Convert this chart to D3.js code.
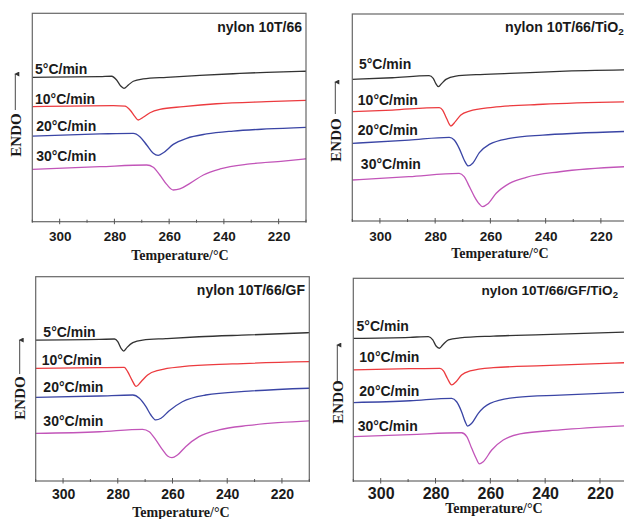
<!DOCTYPE html>
<html>
<head>
<meta charset="utf-8">
<script src="https://cdn.jsdelivr.net/npm/d3@7/dist/d3.min.js"></script>
<style>
  html, body { margin: 0; padding: 0; background: #fff; }
  svg { display: block; }
</style>
</head>
<body>
<svg id="chart" width="624" height="519"></svg>
<script>
// ---------- data (temperature °C, heat flow a.u.) ----------
const rateLabels = ["5\u00B0C/min", "10\u00B0C/min", "20\u00B0C/min", "30\u00B0C/min"];
const majorTicks = [300, 280, 260, 240, 220];
const minorTicks = [310, 290, 270, 250, 230, 210];
const panelTitles = ["nylon 10T/66", "nylon 10T/66/TiO", "nylon 10T/66/GF", "nylon 10T/66/GF/TiO"];
const titleSubs = ["", "2", "", "2"];

// panel 1: nylon 10T/66
const p1_5  = [[310,69.3],[285.3,69.6],[281,69.8],[279.2,68.0],[277.7,65.1],[276.5,64.0],[274.9,65.6],[273.1,67.4],[269.5,68.5],[260.9,69.3],[248.8,70.2],[236.6,71.0],[224.4,71.7],[210,72.2]];
const p1_10 = [[310,55.2],[280.4,55.7],[276.1,55.5],[274.3,53.6],[272.5,50.4],[271.3,48.8],[269.5,50.1],[267,52.3],[263.4,53.9],[254.8,55.2],[242.7,56.6],[224.4,57.6],[210,58.2]];
const p1_20 = [[310,41.1],[285.3,42.1],[273.1,42.4],[270.7,40.8],[268.2,36.8],[265.8,32.8],[264,31.8],[262.1,33.1],[258.5,37.1],[253.6,40.0],[246.3,42.1],[236.6,43.5],[224.4,44.5],[210,45.3]];
const p1_30 = [[310,25.1],[285.3,26.4],[268.2,27.2],[265.8,26.1],[263.4,22.4],[260.9,17.9],[258.5,15.2],[256.1,15.7],[252.4,18.4],[247.5,22.4],[241.4,25.3],[230.5,27.7],[218.3,29.1],[210,30.2]];

// panel 2: nylon 10T/66/TiO2
const p2_5  = [[310,68.4],[295.5,69.2],[282.2,70.2],[280.7,68.9],[279.8,66.5],[278.8,64.9],[277.6,66.5],[276.1,68.4],[272.5,70.0],[265.2,70.7],[253.1,71.3],[234.9,72.3],[210,73.0]];
const p2_10 = [[310,52.8],[295.5,53.6],[278.5,54.8],[277.3,53.6],[275.9,49.6],[274.3,45.9],[272.7,48.0],[270.7,51.2],[267.6,53.1],[259.2,54.9],[241,56.4],[210,57.6]];
const p2_20 = [[310,37.5],[289.5,39.1],[274.9,40.4],[273.1,39.1],[271.3,35.1],[269.5,29.5],[268,26.6],[266.4,27.9],[264,33.0],[260.4,37.0],[253.1,39.9],[241,41.5],[228.8,42.4],[210,43.3]];
const p2_30 = [[310,19.8],[289.5,21.4],[271.3,23.0],[269.5,21.4],[267.6,16.6],[265.8,11.8],[264,8.2],[262.8,6.9],[261,8.2],[257.9,13.4],[253.1,18.2],[247,21.1],[234.9,23.8],[210,26.3]];

// panel 3: nylon 10T/66/GF
const p3_5  = [[310,69.0],[286.7,69.3],[281.2,69.5],[280,68.2],[278.8,64.9],[277.8,63.6],[276.6,65.4],[274.5,67.7],[270.9,69.0],[262.4,69.7],[250.3,70.6],[232.1,71.5],[210,72.6]];
const p3_10 = [[310,55.1],[286.7,55.5],[277.6,55.6],[276.4,53.5],[274.8,49.4],[273.3,46.3],[271.5,48.6],[269.1,51.9],[264.8,54.3],[256.4,56.0],[238.2,57.3],[210,58.4]];
const p3_20 = [[310,40.9],[286.7,41.6],[274.5,42.1],[272.1,40.5],[269.7,36.4],[267.9,32.3],[266.1,29.9],[264.2,30.7],[261.2,34.4],[256.4,38.8],[247.9,42.1],[232.1,44.0],[210,45.4]];
const p3_30 = [[310,23.3],[286.7,24.1],[270.9,25.3],[268.5,24.1],[266.1,20.1],[263.6,15.2],[261.8,12.2],[260.2,11.4],[258.2,12.7],[255.2,16.8],[250.3,21.7],[243,25.0],[232.1,27.2],[210,29.4]];

// panel 4: nylon 10T/66/GF/TiO2
const p4_5  = [[310,70.4],[289.3,70.9],[282.6,71.2],[281,69.6],[279.8,66.6],[278.6,65.5],[277.4,67.1],[275.3,69.6],[271.1,70.6],[258.9,71.5],[240.7,72.2],[210,73.5]];
const p4_10 = [[310,54.8],[289.3,55.4],[278.4,55.6],[277.1,54.3],[275.7,50.7],[274.1,47.4],[272.5,49.0],[270.5,52.3],[267.4,54.3],[258.9,55.9],[240.7,56.9],[210,58.4]];
const p4_20 = [[310,38.7],[289.3,39.6],[274.1,40.8],[272.3,39.1],[270.5,34.2],[269.2,29.3],[268.3,27.1],[266.8,28.5],[264.4,33.4],[260.1,38.3],[250.4,41.3],[234.6,42.4],[210,43.8]];
const p4_30 = [[310,21.9],[289.3,22.9],[270.5,23.8],[268.6,21.9],[266.8,16.1],[265.2,11.2],[264,8.4],[262.6,9.5],[259.5,15.3],[255.3,20.2],[249.2,23.2],[234.6,25.2],[210,27.3]];

const seriesByPanel = [
  [p1_5, p1_10, p1_20, p1_30],
  [p2_5, p2_10, p2_20, p2_30],
  [p3_5, p3_10, p3_20, p3_30],
  [p4_5, p4_10, p4_20, p4_30]
];

// ---------- layout / style ----------
const colors = ["#333333", "#ec3b3f", "#3a45a5", "#c255b9"];
const panels = [
  { left: 32.3, top: 13.3, right: 306,   bottom: 221.7, tickY: 236.5, tickFs: 13.5, xtX: 180, xtY: 255, endoDx: -17, endoY: 135, arrTop: 72,  arrBot: 110,
    titleAnchor: "end", titleX: 302, titleY: 27, titleFs: 14,
    labels: [[309.0,73.3],[309.0,58.9],[308.6,45.9],[308.6,31.5]] },
  { left: 352.3, top: 14, right: 628.5, bottom: 221, tickY: 236, tickFs: 13.5, xtX: 500, xtY: 253, endoDx: -17, endoY: 140, arrTop: 80, arrBot: 114,
    titleAnchor: "start", titleX: 505, titleY: 27, titleFs: 14.2,
    labels: [[307.6,75.8],[308.0,58.5],[308.0,44.0],[306.9,27.5]] },
  { left: 35.7, top: 276.7, right: 309.3, bottom: 481, tickY: 494, tickFs: 14, xtX: 181, xtY: 512, endoDx: -16, endoY: 398, arrTop: 338, arrBot: 374,
    titleAnchor: "end", titleX: 305, titleY: 290, titleFs: 14,
    labels: [[307.2,73.1],[307.8,59.2],[307.2,46.2],[307.2,29.4]] },
  { left: 353.3, top: 278.3, right: 627.4, bottom: 481, tickY: 493, tickFs: 16, xtX: 494, xtY: 508, endoDx: -16, endoY: 402, arrTop: 343, arrBot: 381,
    titleAnchor: "start", titleX: 481.5, titleY: 290, titleFs: 13.6,
    labels: [[308.8,76.6],[307.8,61.3],[307.8,44.5],[308.4,27.3]] }
];

const svg = d3.select("#chart");
const sans = "'Liberation Sans', Arial, sans-serif";
const serif = "'Liberation Serif', 'Times New Roman', serif";

// arrow marker
svg.append("defs").append("marker")
  .attr("id", "arr").attr("viewBox", "0 0 10 10")
  .attr("refX", 5).attr("refY", 2).attr("markerWidth", 5).attr("markerHeight", 6)
  .attr("orient", "auto-start-reverse").attr("markerUnits", "userSpaceOnUse")
  .append("path").attr("d", "M0,10 L5,0 L10,10 Z").attr("fill", "#333");

panels.forEach((p, i) => {
  const x = d3.scaleLinear().domain([310, 210]).range([p.left, p.right]);
  const y = d3.scaleLinear().domain([0, 100]).range([p.bottom, p.top]);
  const g = svg.append("g");

  // curves
  const line = d3.line().x(d => x(d[0])).y(d => y(d[1])).curve(d3.curveMonotoneX);
  seriesByPanel[i].forEach((s, k) => {
    g.append("path").datum(s).attr("d", line)
      .attr("fill", "none").attr("stroke", colors[k]).attr("stroke-width", 1.3);
  });

  // frame
  g.append("rect").attr("x", p.left).attr("y", p.top)
    .attr("width", p.right - p.left).attr("height", p.bottom - p.top)
    .attr("fill", "none").attr("stroke", "#666").attr("stroke-width", 1.2);

  // x axis ticks + labels
  const ax = d3.axisBottom(x).tickValues(majorTicks).tickSize(0).tickFormat(d3.format("d"));
  const axg = g.append("g").attr("transform", `translate(0,${p.bottom})`).call(ax);
  axg.select(".domain").remove();
  axg.selectAll("text").attr("y", p.tickY - p.bottom).attr("dy", "0.35em")
    .attr("font-family", sans).attr("font-weight", "bold").attr("font-size", p.tickFs).attr("fill", "#1a1a1a");
  majorTicks.forEach(t => g.append("line").attr("x1", x(t)).attr("x2", x(t))
    .attr("y1", p.bottom - 3).attr("y2", p.bottom + 2.5).attr("stroke", "#555").attr("stroke-width", 1));
  minorTicks.forEach(t => g.append("line").attr("x1", x(t)).attr("x2", x(t))
    .attr("y1", p.bottom - 2).attr("y2", p.bottom + 1).attr("stroke", "#555").attr("stroke-width", 1));

  // x title
  g.append("text").attr("x", p.xtX).attr("y", p.xtY).attr("dy", "0.35em")
    .attr("text-anchor", "middle").attr("font-family", serif).attr("font-weight", "bold")
    .attr("font-size", 14).attr("fill", "#1a1a1a").text("Temperature/\u00B0C");

  // ENDO label + arrow
  const ex = p.left + p.endoDx;
  g.append("text").attr("transform", `translate(${ex},${p.endoY}) rotate(-90)`)
    .attr("text-anchor", "middle").attr("dy", "0.35em")
    .attr("font-family", serif).attr("font-weight", "bold").attr("font-size", 15)
    .attr("fill", "#1a1a1a").text("ENDO");
  g.append("line").attr("x1", ex).attr("x2", ex).attr("y1", p.arrBot).attr("y2", p.arrTop + 2)
    .attr("stroke", "#333").attr("stroke-width", 0.9).attr("marker-end", "url(#arr)");

  // panel title
  const tt = g.append("text").attr("x", p.titleX).attr("y", p.titleY).attr("dy", "0.35em")
    .attr("text-anchor", p.titleAnchor).attr("font-family", sans).attr("font-weight", "bold")
    .attr("font-size", p.titleFs).attr("fill", "#1a1a1a");
  tt.append("tspan").text(panelTitles[i]);
  if (titleSubs[i]) tt.append("tspan").attr("dy", "0.35em").attr("font-size", p.titleFs * 0.7).text(titleSubs[i]);

  // rate labels
  p.labels.forEach((lp, k) => {
    g.append("text").attr("x", x(lp[0])).attr("y", y(lp[1])).attr("dy", "0.35em")
      .attr("font-family", sans).attr("font-weight", "bold").attr("font-size", 14)
      .attr("fill", "#1a1a1a").text(rateLabels[k]);
  });
});
</script>
</body>
</html>
